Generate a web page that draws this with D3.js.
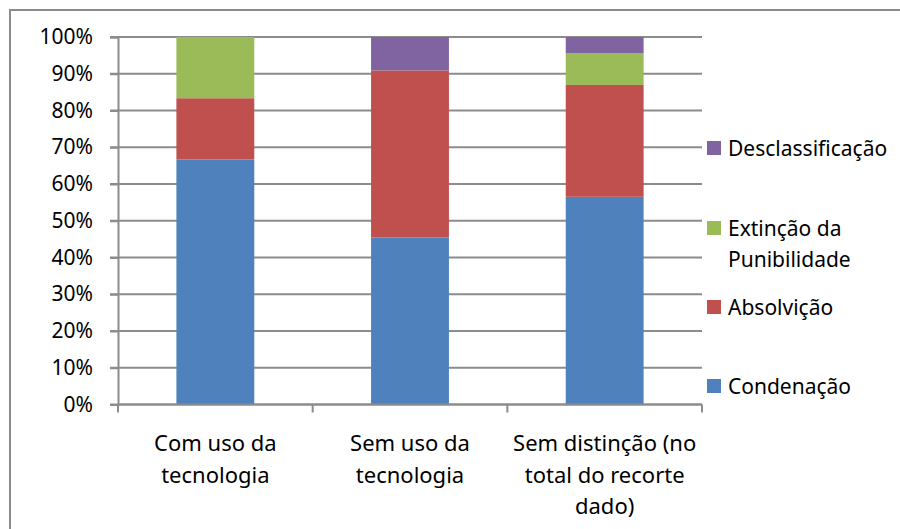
<!DOCTYPE html>
<html>
<head>
<meta charset="utf-8">
<script src="https://cdn.jsdelivr.net/npm/d3@7"></script>
<style>
  body { margin: 0; background: #fff; }
  text { font-family: "Noto Sans", sans-serif; fill: #000; }
</style>
</head>
<body>
<div id="chart"></div>
<script>
// categories (x axis), one label line per entry
var categories = ["Com uso da tecnologia", "Sem uso da tecnologia", "Sem distinção (no total do recorte dado)"];
var categoryLines = [
    ["Com uso da", "tecnologia"],
    ["Sem uso da", "tecnologia"],
    ["Sem distinção (no", "total do recorte", "dado)"]
];

// series, bottom to top (percent)
var seriesNames = ["Condenação", "Absolvição", "Extinção da Punibilidade", "Desclassificação"];
var condenacao = [66.67, 45.45, 56.52];
var absolvicao = [16.67, 45.45, 30.43];
var extincao = [16.66, 0, 8.70];
var desclassificacao = [0, 9.10, 4.35];

var yTicks = [0, 10, 20, 30, 40, 50, 60, 70, 80, 90, 100];
var colors = ["#4F81BD", "#C0504D", "#9BBB59", "#8064A2"];

function drawChart() {
    var width = 900, height = 529;
    var margin = {left: 118, right: 198, top: 37, bottom: 124.5};

    var svg = d3.select("#chart")
        .append("svg")
        .attr("width", width)
        .attr("height", height);

    //chart area border (right and bottom edges fall outside the picture)
    svg.append("path")
        .attr("d", "M10," + height + "V10H" + width)
        .attr("fill", "none")
        .attr("stroke", "#8c8c8c")
        .attr("stroke-width", 2);

    var x = d3.scaleBand()
        .domain(categories)
        .range([margin.left, width - margin.right])
        .paddingInner(0.6)
        .paddingOuter(0.3);

    var y = d3.scaleLinear()
        .domain([0, 100])
        .range([height - margin.bottom, margin.top]);

    //gridlines
    svg.append("g")
        .selectAll("line")
        .data(yTicks)
        .enter()
        .append("line")
        .attr("x1", margin.left - 8)
        .attr("x2", width - margin.right)
        .attr("y1", function (d) { return y(d); })
        .attr("y2", function (d) { return y(d); })
        .attr("stroke", "#8c8c8c")
        .attr("stroke-width", 2);

    //stack the series
    var rows = categories.map(function (c, i) {
        return {cat: c, s0: condenacao[i], s1: absolvicao[i], s2: extincao[i], s3: desclassificacao[i]};
    });
    var stack = d3.stack().keys(["s0", "s1", "s2", "s3"]);
    var layers = stack(rows);

    svg.append("g")
        .selectAll("g")
        .data(layers)
        .enter()
        .append("g")
        .attr("fill", function (d, i) { return colors[i]; })
        .selectAll("rect")
        .data(function (d) { return d.filter(function (p) { return p[1] - p[0] > 0; }); })
        .enter()
        .append("rect")
        .attr("x", function (d) { return x(d.data.cat); })
        .attr("width", x.bandwidth())
        .attr("y", function (d) { return y(d[1]); })
        .attr("height", function (d) { return y(d[0]) - y(d[1]); });

    //y axis
    var yAxis = svg.append("g")
        .attr("transform", "translate(" + margin.left + ",0)")
        .call(d3.axisLeft(y).tickValues(yTicks).tickSize(8).tickPadding(17)
            .tickFormat(function (d) { return d + "%"; }));
    yAxis.select(".domain").attr("stroke", "#8c8c8c").attr("stroke-width", 2);
    yAxis.selectAll(".tick line").attr("stroke", "#8c8c8c").attr("stroke-width", 2);
    yAxis.selectAll("text").style("font-size", "21px").attr("fill", "#000");

    //x axis with ticks between categories
    var xAxisY = y(0);
    var xg = svg.append("g");
    xg.append("line")
        .attr("x1", margin.left).attr("x2", width - margin.right)
        .attr("y1", xAxisY).attr("y2", xAxisY)
        .attr("stroke", "#8c8c8c").attr("stroke-width", 2);
    var edges = d3.range(categories.length + 1).map(function (i) { return margin.left + i * (width - margin.left - margin.right) / categories.length; });
    xg.selectAll(".xt")
        .data(edges)
        .enter()
        .append("line")
        .attr("class", "xt")
        .attr("x1", function (d) { return d; }).attr("x2", function (d) { return d; })
        .attr("y1", xAxisY).attr("y2", xAxisY + 8)
        .attr("stroke", "#8c8c8c").attr("stroke-width", 2);

    //category labels
    xg.selectAll(".cat")
        .data(categories)
        .enter()
        .append("text")
        .attr("class", "cat")
        .attr("text-anchor", "middle")
        .style("font-size", "22px")
        .each(function (d, i) {
            var t = d3.select(this);
            categoryLines[i].forEach(function (line, j) {
                t.append("tspan")
                    .attr("x", x(d) + x.bandwidth() / 2)
                    .attr("y", 451 + j * 31.5)
                    .text(line);
            });
        });

    //legend, top entry is the last series
    var legendY = [386, 307, 228, 148];
    var legend = svg.append("g");
    seriesNames.forEach(function (name, i) {
        legend.append("rect")
            .attr("x", 707)
            .attr("y", legendY[i] - 7)
            .attr("width", 14)
            .attr("height", 14)
            .attr("fill", colors[i]);
        var words = name == "Extinção da Punibilidade" ? ["Extinção da", "Punibilidade"] : [name];
        var t = legend.append("text").style("font-size", "21px");
        words.forEach(function (w, j) {
            t.append("tspan")
                .attr("x", 728)
                .attr("y", legendY[i] + 7.5 + j * 31)
                .text(w);
        });
    });
}

window.onload = drawChart();
</script>
</body>
</html>
